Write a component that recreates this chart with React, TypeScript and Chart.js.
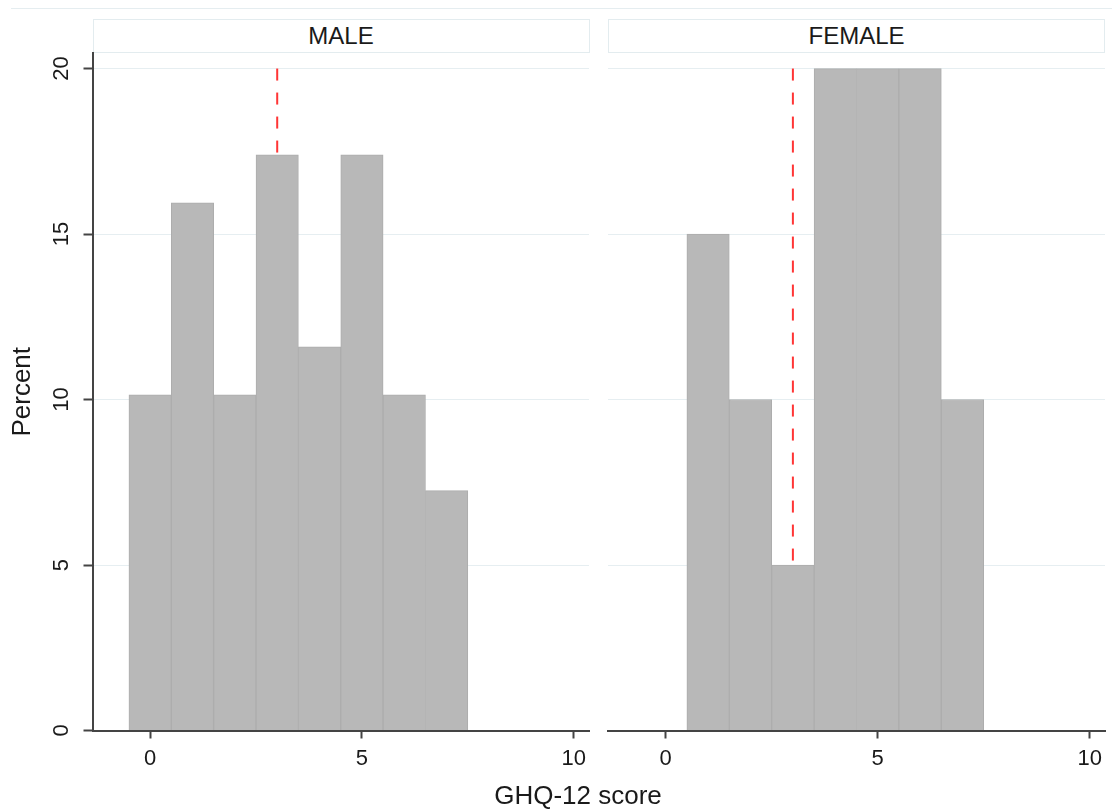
import React, { useEffect, useRef } from 'react';
import { Chart, registerables } from 'chart.js';

Chart.register(...registerables);

// ---- data ----
const maleScores = [0, 1, 2, 3, 4, 5, 6, 7];
const malePercent = [10.14, 15.94, 10.14, 17.39, 11.59, 17.39, 10.14, 7.25];
const femaleScores = [1, 2, 3, 4, 5, 6, 7];
const femalePercent = [15, 10, 5, 20, 20, 20, 10];
const maleMarker = 3;
const femaleMarker = 3;
const markerTop = 20;
const xTicks = [0, 5, 10];
const yTicks = [0, 5, 10, 15, 20];
const xMin = -1.36;
const xMax = 10.36;
const yMin = 0;
const yMax = 20.47;
const panelTitles = ['MALE', 'FEMALE'];
const xTitle = 'GHQ-12 score';
const yTitle = 'Percent';

const FONT = '"Liberation Sans", Arial, Helvetica, sans-serif';
const TEXT = '#1a1a1a';
const AXIS = '#444444';
const GRID = '#e6eef1';

function makeConfig(xs: number[], ys: number[], marker: number, showY: boolean): any {
  return {
    type: 'bar',
    data: {
      datasets: [
        {
          type: 'bar',
          data: xs.map((x, i) => ({ x, y: ys[i] })),
          backgroundColor: '#b8b8b8',
          borderColor: '#adadad',
          borderWidth: 1,
          barPercentage: 1,
          categoryPercentage: 1,
          order: 1,
        },
        {
          type: 'line',
          data: [
            { x: marker, y: markerTop },
            { x: marker, y: 0 },
          ],
          borderColor: '#ff3535',
          borderWidth: 2,
          borderDash: [12, 12],
          pointRadius: 0,
          fill: false,
          tension: 0,
          order: 2,
        },
      ],
    },
    options: {
      animation: false,
      responsive: false,
      events: [],
      layout: {
        padding: showY
          ? { left: 0, right: 11, top: 13, bottom: 0 }
          : { left: 8, right: 7, top: 13, bottom: 0 },
      },
      plugins: {
        legend: { display: false },
        tooltip: { enabled: false },
        title: { display: false },
      },
      scales: {
        x: {
          type: 'linear',
          min: xMin,
          max: xMax,
          offset: false,
          afterBuildTicks: (s: any) => {
            s.ticks = xTicks.map((v) => ({ value: v }));
          },
          afterFit: (s: any) => {
            s.height = 69.5;
            s.paddingLeft = 0;
            s.paddingRight = 0;
          },
          grid: {
            offset: false,
            drawOnChartArea: false,
            drawTicks: true,
            tickLength: 8,
            tickColor: AXIS,
            tickWidth: 2,
          },
          border: { display: true, color: AXIS, width: 2 },
          ticks: {
            padding: 7,
            color: TEXT,
            maxRotation: 0,
            autoSkip: false,
            font: { family: FONT, size: 22 },
          },
        },
        y: {
          type: 'linear',
          min: yMin,
          max: yMax,
          afterBuildTicks: (s: any) => {
            s.ticks = yTicks.map((v) => ({ value: v }));
          },
          afterFit: (s: any) => {
            s.width = showY ? 92.5 : 0;
            s.paddingTop = 0;
            s.paddingBottom = 0;
          },
          grid: {
            color: (ctx: any) => (ctx.tick && ctx.tick.value === 0 ? 'rgba(0,0,0,0)' : GRID),
            lineWidth: 1,
            drawTicks: showY,
            tickLength: 9,
            tickColor: AXIS,
            tickWidth: 2,
          },
          border: { display: showY, color: AXIS, width: 2 },
          ticks: {
            display: showY,
            minRotation: 90,
            maxRotation: 90,
            crossAlign: 'center',
            padding: 9.5,
            color: TEXT,
            autoSkip: false,
            font: { family: FONT, size: 22 },
          },
          title: {
            display: showY,
            text: yTitle,
            color: TEXT,
            font: { family: FONT, size: 26 },
            padding: { top: 7, bottom: 0 },
          },
        },
      },
    },
  };
}

function Panel(props: {
  xs: number[];
  ys: number[];
  marker: number;
  showY: boolean;
  left: number;
  width: number;
}) {
  const ref = useRef<HTMLCanvasElement | null>(null);
  useEffect(() => {
    if (!ref.current) return;
    const chart = new Chart(ref.current, makeConfig(props.xs, props.ys, props.marker, props.showY));
    return () => chart.destroy();
  }, []);
  return (
    <canvas
      ref={ref}
      width={props.width}
      height={760}
      style={{
        position: 'absolute',
        left: props.left,
        top: 40,
        width: props.width,
        height: 760,
        display: 'block',
      }}
    />
  );
}

const headerStyle = (left: number, width: number): React.CSSProperties => ({
  position: 'absolute',
  left,
  top: 19,
  width,
  height: 34,
  boxSizing: 'border-box',
  border: '1px solid #e3ecef',
  lineHeight: '32px',
  textAlign: 'center',
  fontFamily: FONT,
  fontSize: 24,
  color: TEXT,
});

export default function App() {
  return (
    <div
      style={{
        position: 'absolute',
        left: 0,
        top: 0,
        width: 1112,
        height: 811,
        background: '#ffffff',
        overflow: 'hidden',
      }}
    >
      <div
        style={{
          position: 'absolute',
          left: 11,
          top: 8,
          width: 1101,
          height: 1,
          background: '#e5edf0',
        }}
      />
      <div style={headerStyle(92.5, 497)}>{panelTitles[0]}</div>
      <div style={headerStyle(608, 497)}>{panelTitles[1]}</div>
      <Panel xs={maleScores} ys={malePercent} marker={maleMarker} showY={true} left={0} width={600} />
      <Panel xs={femaleScores} ys={femalePercent} marker={femaleMarker} showY={false} left={600} width={512} />
      <div
        style={{
          position: 'absolute',
          left: 478,
          top: 780,
          width: 200,
          lineHeight: '30px',
          textAlign: 'center',
          fontFamily: FONT,
          fontSize: 26,
          color: TEXT,
          whiteSpace: 'nowrap',
        }}
      >
        {xTitle}
      </div>
    </div>
  );
}
